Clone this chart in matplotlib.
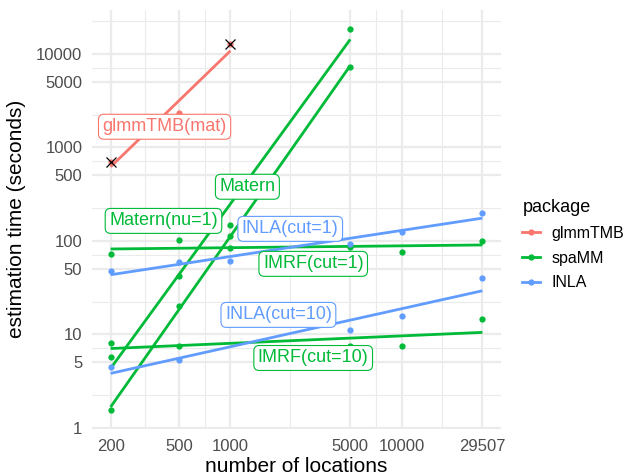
import numpy as np
import matplotlib
matplotlib.use("Agg")
import matplotlib.pyplot as plt
from matplotlib.lines import Line2D

plt.rcParams['font.family'] = ['Liberation Sans', 'DejaVu Sans']

# ---------------- data ----------------
packages = ["glmmTMB", "spaMM", "INLA"]
pkg_colors = {"glmmTMB": "#F8766D", "spaMM": "#00BA38", "INLA": "#619CFF"}

group_names = ["glmmTMB(mat)", "Matern", "Matern(nu=1)", "IMRF(cut=1)",
               "IMRF(cut=10)", "INLA(cut=1)", "INLA(cut=10)"]
group_pkg = ["glmmTMB", "spaMM", "spaMM", "spaMM", "spaMM", "INLA", "INLA"]

glmm_x = [200, 500, 1000]
glmm_y = [700, 2340, 12700]

matern_x = [200, 500, 1000, 5000]
matern_y = [5.7, 42, 148, 18600]

maternnu1_x = [200, 500, 1000, 5000]
maternnu1_y = [1.55, 20, 113, 7230]

imrf1_x = [200, 500, 1000, 5000, 10000, 29507]
imrf1_y = [73, 101, 83, 86, 76, 99]

imrf10_x = [200, 500, 5000, 10000, 29507]
imrf10_y = [8.0, 7.5, 7.5, 7.5, 14.4]

inla1_x = [200, 500, 1000, 5000, 10000, 29507]
inla1_y = [47, 59, 61, 93, 125, 200]

inla10_x = [200, 500, 5000, 10000, 29507]
inla10_y = [4.5, 5.3, 11.0, 15.6, 40]

# failed / flagged fits (black crosses)
cross_x = [200, 1000]
cross_y = [700, 12700]

x_breaks = [200, 500, 1000, 5000, 10000, 29507]
y_breaks = [1, 5, 10, 50, 100, 500, 1000, 5000, 10000]

# label positions (data coordinates)
label_pos = {
    "glmmTMB(mat)": (413, 1657),
    "Matern": (1256, 378),
    "Matern(nu=1)": (407, 163),
    "INLA(cut=1)": (2233, 134),
    "IMRF(cut=1)": (3040, 56.6),
    "INLA(cut=10)": (1905, 16.1),
    "IMRF(cut=10)": (3040, 5.57),
}

groups_x = [glmm_x, matern_x, maternnu1_x, imrf1_x, imrf10_x, inla1_x, inla10_x]
groups_y = [glmm_y, matern_y, maternnu1_y, imrf1_y, imrf10_y, inla1_y, inla10_y]

# ---------------- figure ----------------
fig = plt.figure(figsize=(6.29, 4.74), dpi=100)
ax = fig.add_axes([92 / 629, 1 - 429 / 474, (501 - 92) / 629, (429 - 9.5) / 474])
ax.set_xscale('log')
ax.set_yscale('log')

all_y = []
fits = []
for gx, gy in zip(groups_x, groups_y):
    lx, ly = np.log10(gx), np.log10(gy)
    slope, inter = np.polyfit(lx, ly, 1)
    xs = np.linspace(lx.min(), lx.max(), 80)
    ys = inter + slope * xs
    fits.append((10 ** xs, 10 ** ys))
    all_y.extend(list(ly) + list(ys))

lxall = np.log10(np.concatenate([np.array(g, float) for g in groups_x]))
xr = lxall.max() - lxall.min()
ax.set_xlim(10 ** (lxall.min() - 0.05 * xr), 10 ** (lxall.max() + 0.05 * xr))
yr = max(all_y) - min(all_y)
ax.set_ylim(10 ** (min(all_y) - 0.05 * yr), 10 ** (max(all_y) + 0.05 * yr))

# grid (ggplot style minor breaks)
def minor_breaks(breaks):
    b = np.log10(breaks)
    bd = b[1] - b[0]
    b = np.concatenate([[b[0] - bd], b, [b[-1] + bd]])
    return 10 ** ((b[:-1] + b[1:]) / 2)

grid_c = "#EBEBEB"
for v in minor_breaks(x_breaks):
    ax.axvline(v, color=grid_c, lw=0.8, zorder=0)
for v in minor_breaks(y_breaks):
    ax.axhline(v, color=grid_c, lw=0.8, zorder=0)
for v in x_breaks:
    ax.axvline(v, color=grid_c, lw=1.6, zorder=0)
for v in y_breaks:
    ax.axhline(v, color=grid_c, lw=1.6, zorder=0)

for gx, gy, pkg, (fx, fy) in zip(groups_x, groups_y, group_pkg, fits):
    c = pkg_colors[pkg]
    ax.plot(gx, gy, 'o', color=c, ms=4.5, mec='none', zorder=3)
    ax.plot(fx, fy, '-', color=c, lw=2.0, zorder=2, solid_capstyle='butt')

ax.plot(cross_x, cross_y, 'x', color='black', ms=7, mew=0.9, zorder=4)

for name, pkg in zip(group_names, group_pkg):
    c = pkg_colors[pkg]
    px, py = label_pos[name]
    ax.text(px, py, name, color=c, fontsize=13, ha='center', va='center', zorder=5,
            bbox=dict(boxstyle='round,pad=0.22,rounding_size=0.3', fc='white', ec=c, lw=0.8))

ax.set_xticks(x_breaks)
ax.set_xticklabels([str(v) for v in x_breaks])
ax.set_yticks(y_breaks)
ax.set_yticklabels([str(v) for v in y_breaks])
ax.xaxis.set_minor_locator(matplotlib.ticker.NullLocator())
ax.yaxis.set_minor_locator(matplotlib.ticker.NullLocator())
ax.tick_params(axis='both', length=0, labelsize=12, labelcolor='#4D4D4D')
ax.tick_params(axis='x', pad=7)
ax.tick_params(axis='y', pad=7)
for s in ax.spines.values():
    s.set_visible(False)

ax.set_xlabel("number of locations", fontsize=15, labelpad=2)
ax.set_ylabel("estimation time (seconds)", fontsize=15, labelpad=7)

handles = [Line2D([0], [0], color=pkg_colors[p], lw=2, marker='o', ms=4.5, mec='none')
           for p in packages]
leg = fig.legend(handles, packages, title="package", loc='upper left',
                 bbox_to_anchor=(508 / 629, 1 - 185 / 474), frameon=False,
                 fontsize=11.5, title_fontsize=13, handlelength=1.1,
                 labelspacing=0.6, handletextpad=0.7, alignment='left')

fig.savefig("out.png", dpi=100)
